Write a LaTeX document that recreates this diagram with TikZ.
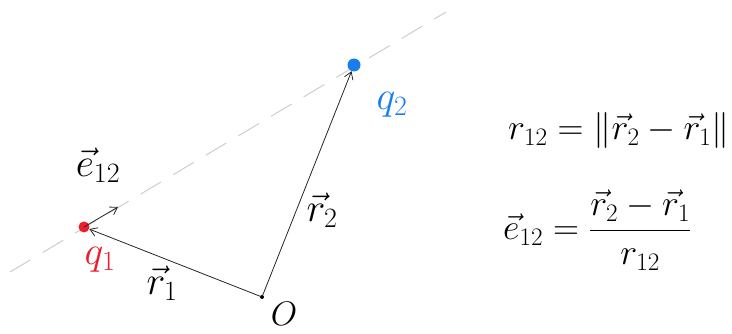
\RequirePackage{fix-cm}
\documentclass[tikz,border=0pt]{standalone}
\usepackage{amsmath}
\usetikzlibrary{arrows.meta}
\definecolor{qred}{RGB}{235,30,45}
\definecolor{qblue}{RGB}{25,125,235}
\definecolor{dashgray}{RGB}{205,205,205}
\tikzset{
  vecarrow/.style={draw=black!85, line width=0.8pt, -{Straight Barb[length=7pt,width=9pt]}},
  charge/.style={circle, inner sep=0pt, minimum size=11pt},
  labtext/.style={font=\fontsize{40}{44}\selectfont, inner sep=0pt},
  formtext/.style={font=\fontsize{36}{40}\selectfont, inner sep=0pt},
  hugetext/.style={font=\fontsize{34}{38}\selectfont, inner sep=0pt}
}
\begin{document}
\begin{tikzpicture}[x=1pt,y=-1pt]
\useasboundingbox (0,0) rectangle (732,334);
% dashed line through the charges
\coordinate (d1) at (10,272);
\coordinate (d2) at (446,12);
\draw[dashgray, line width=1pt, dash pattern=on 24pt off 14pt] (d1) -- (d2);
% points
\node[charge, fill=qred] (q1) at (84,227) {};
\node[charge, fill=qblue, minimum width=10pt, minimum height=13pt] (q2) at (354,65) {};
\node[circle, fill=black, inner sep=0pt, minimum size=4pt] (O) at (262,297) {};
\coordinate (etip) at (118,207);
% vectors
\draw[vecarrow] (O) -- (q1);
\draw[vecarrow] (O) -- (q2);
\draw[vecarrow] (q1.center) -- (etip);
% labels
\node[hugetext] (Olab) at (284,314) {$O$};
\node[labtext, text=qred] (q1lab) at (100,260) {$q_1$};
\node[labtext, text=qblue] (q2lab) at (392,105) {$q_2$};
\node[labtext] (r1lab) at (162,283) {$\vec{r}_1$};
\node[labtext] (r2lab) at (322,210) {$\vec{r}_2$};
\node[labtext] (e12lab) at (98,165) {$\vec{e}_{12}$};
% formulas
\node[formtext, anchor=base west] (f1) at (508,140)
  {$r_{12} = \lVert \vec{r}_2 - \vec{r}_1 \rVert$};
\node[formtext, anchor=west] (f2) at (503,230)
  {$\vec{e}_{12} = \dfrac{\vec{r}_2 - \vec{r}_1}{r_{12}}$};
\end{tikzpicture}
\end{document}
